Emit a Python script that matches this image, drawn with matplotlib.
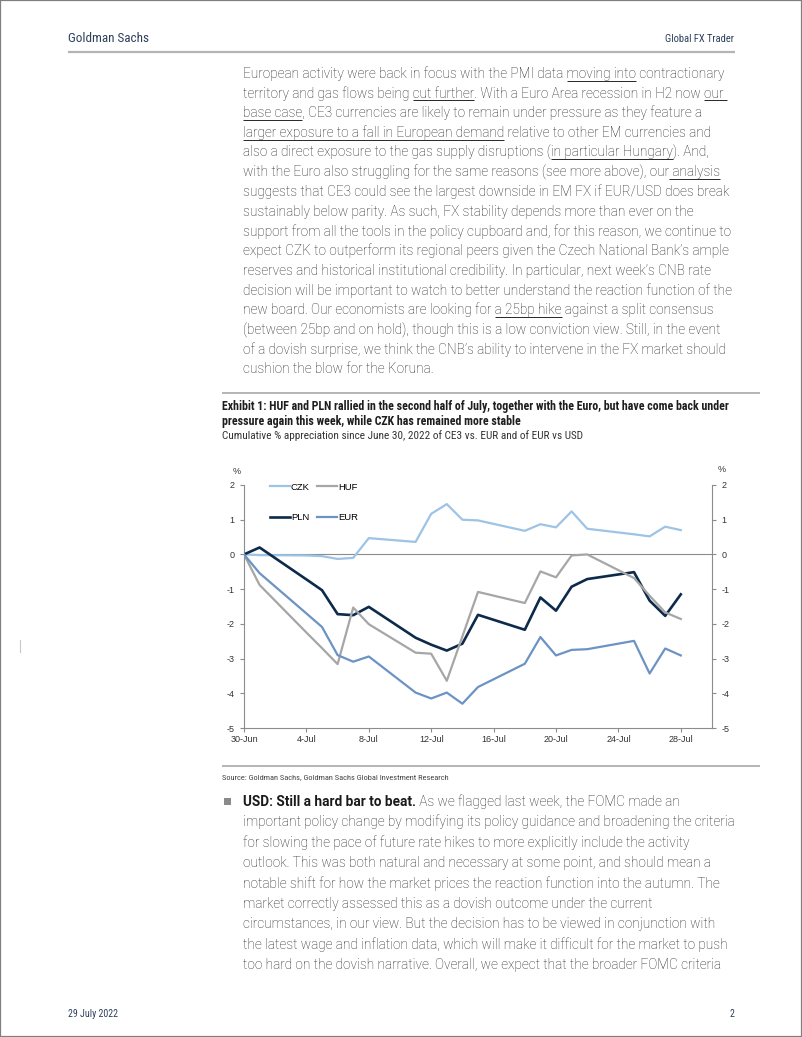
import re

import matplotlib
matplotlib.use("Agg")
import matplotlib.dates as mdates
import matplotlib.pyplot as plt
import pandas as pd
from matplotlib import font_manager
from matplotlib.lines import Line2D
from matplotlib.patches import Rectangle

# ---- chart data ----
dates = pd.to_datetime([
    "2022-06-30", "2022-07-01", "2022-07-04", "2022-07-05", "2022-07-06", "2022-07-07",
    "2022-07-08", "2022-07-11", "2022-07-12", "2022-07-13", "2022-07-14", "2022-07-15",
    "2022-07-18", "2022-07-19", "2022-07-20", "2022-07-21", "2022-07-22", "2022-07-25",
    "2022-07-26", "2022-07-27", "2022-07-28",
])
czk = [0, -0.02, -0.03, -0.05, -0.13, -0.10, 0.47, 0.36, 1.17, 1.45, 1.00, 0.98,
       0.68, 0.87, 0.78, 1.24, 0.74, 0.58, 0.52, 0.80, 0.70]
huf = [0, -0.88, -2.25, -2.70, -3.16, -1.53, -2.01, -2.83, -2.86, -3.64, -2.36, -1.08,
       -1.40, -0.49, -0.66, -0.03, 0.00, -0.68, -1.19, -1.67, -1.86]
pln = [0, 0.20, -0.72, -1.03, -1.72, -1.75, -1.51, -2.40, -2.60, -2.77, -2.57, -1.74,
       -2.17, -1.24, -1.62, -0.93, -0.71, -0.51, -1.33, -1.77, -1.15]
eur = [0, -0.54, -1.70, -2.09, -2.90, -3.09, -2.94, -3.98, -4.15, -3.98, -4.30, -3.82,
       -3.15, -2.38, -2.91, -2.75, -2.73, -2.49, -3.43, -2.71, -2.91]
tick_dates = pd.date_range("2022-06-30", periods=8, freq="4D")

# ---- page text ----
para1 = [
    "European activity were back in focus with the PMI data [moving into] contractionary",
    "territory and gas flows being [cut further]. With a Euro Area recession in H2 now [our ]",
    "[base case], CE3 currencies are likely to remain under pressure as they feature a",
    "[larger exposure to a fall in European demand] relative to other EM currencies and",
    "also a direct exposure to the gas supply disruptions ([in particular Hungary]). And,",
    "with the Euro also struggling for the same reasons (see more above), our[ analysis]",
    "suggests that CE3 could see the largest downside in EM FX if EUR/USD does break",
    "sustainably below parity. As such, FX stability depends more than ever on the",
    "support from all the tools in the policy cupboard and, for this reason, we continue to",
    "expect CZK to outperform its regional peers given the Czech National Bank\u2019s ample",
    "reserves and historical institutional credibility. In particular, next week\u2019s CNB rate",
    "decision will be important to watch to better understand the reaction function of the",
    "new board. Our economists are looking for [a 25bp hike] against a split consensus",
    "(between 25bp and on hold), though this is a low conviction view. Still, in the event",
    "of a dovish surprise, we think the CNB\u2019s ability to intervene in the FX market should",
    "cushion the blow for the Koruna.",
]
bullet_bold = "USD: Still a hard bar to beat."
para2 = [
    " As we flagged last week, the FOMC made an",
    "important policy change by modifying its policy guidance and broadening the criteria",
    "for slowing the pace of future rate hikes to more explicitly include the activity",
    "outlook. This was both natural and necessary at some point, and should mean a",
    "notable shift for how the market prices the reaction function into the autumn. The",
    "market correctly assessed this as a dovish outcome under the current",
    "circumstances, in our view. But the decision has to be viewed in conjunction with",
    "the latest wage and inflation data, which will make it difficult for the market to push",
    "too hard on the dovish narrative. Overall, we expect that the broader FOMC criteria",
]
title_lines = [
    "Exhibit 1: HUF and PLN rallied in the second half of July, together with the Euro, but have come back under",
    "pressure again this week, while CZK has remained more stable",
]
subtitle = "Cumulative % appreciation since June 30, 2022 of CE3 vs. EUR and of EUR vs USD"
source = "Source: Goldman Sachs, Goldman Sachs Global Investment Research"


def pick(*names):
    have = {f.name for f in font_manager.fontManager.ttflist}
    for n in names:
        if n in have:
            return n
    return "DejaVu Sans"


BODY = pick("Roboto", "Liberation Sans")
NARROW = pick("Liberation Sans Narrow", "Roboto Condensed", "Liberation Sans")
ARIAL = pick("Liberation Sans", "DejaVu Sans")
plt.rcParams["axes.unicode_minus"] = False
plt.rcParams["font.family"] = [ARIAL, "DejaVu Sans"]

W, H = 802, 1037
fig = plt.figure(figsize=(W / 100, H / 100), dpi=100)
renderer = fig.canvas.get_renderer()


def fx(x):
    return x / W


def fy(y):
    return 1 - y / H


def width(s, **kw):
    t = fig.text(0, 0, s, **kw)
    w = t.get_window_extent(renderer).width
    t.remove()
    return w


def adv(s, **kw):
    return width(s + "x", **kw) - width("x", **kw)


def fit(sample, target, **kw):
    return 10 * target / width(sample, fontsize=10, **kw)


def hline(x0, x1, y, color, lw):
    fig.add_artist(Line2D([fx(x0), fx(x1)], [fy(y), fy(y)], transform=fig.transFigure,
                          color=color, lw=lw, solid_capstyle="butt"))


TXT = "#262626"
body_kw = dict(family=[BODY, "DejaVu Sans"], fontweight="light")
body_kw["fontsize"] = fit(para1[6], 486, **body_kw)


def draw_line(x, y, s, **kw):
    plain = s.replace("[", "").replace("]", "")
    fig.text(fx(x), fy(y), plain, va="baseline", ha="left", color=TXT, **kw)
    pre = ""
    for part in re.split(r"(\[.*?\])", s):
        if part.startswith("["):
            inner = part[1:-1]
            x0 = x + (adv(pre, **kw) if pre else 0)
            x1 = x + adv(pre + inner, **kw)
            hline(x0, x1, y + 2.5, TXT, 0.7)
            pre += inner
        else:
            pre += part


# page frame
fig.add_artist(Rectangle((0, 0), 1, 1, transform=fig.transFigure, fill=False,
                         edgecolor="#7f7f7f", lw=1.6))
fig.add_artist(Line2D([fx(20), fx(20)], [fy(640), fy(652)], transform=fig.transFigure,
                      color="#c8c8c8", lw=0.8))

# header / footer
HEAD = "#2d405c"
hd_kw = dict(family=[NARROW, "DejaVu Sans"])
fs_h = fit("Goldman Sachs", 82, **hd_kw)
fig.text(fx(68), fy(42), "Goldman Sachs", fontsize=fs_h, color=HEAD, va="baseline", **hd_kw)
fs_h2 = fit("Global FX Trader", 69, **hd_kw)
fig.text(fx(734), fy(42), "Global FX Trader", fontsize=fs_h2, color=HEAD, va="baseline",
         ha="right", **hd_kw)
hline(68, 735, 52, "#b4b4b4", 1.6)
fs_f = fit("29 July 2022", 50, **hd_kw)
fig.text(fx(68), fy(1017), "29 July 2022", fontsize=fs_f, color=HEAD, va="baseline", **hd_kw)
fig.text(fx(734), fy(1017), "2", fontsize=fs_f, color=HEAD, va="baseline", ha="right", **hd_kw)

# first paragraph
for i, s in enumerate(para1):
    draw_line(243, 78 + i * 19.7, s, **body_kw)

# exhibit heading
hline(222, 760, 393, "#b4b4b4", 1.4)
tb_kw = dict(family=[NARROW, "DejaVu Sans"], fontweight="bold")
fs_t = fit(title_lines[0], 506, **tb_kw)
for i, s in enumerate(title_lines):
    fig.text(fx(222), fy(410 + i * 15), s, fontsize=fs_t, color="#1e1e1e", va="baseline", **tb_kw)
fs_s = fit(subtitle, 359, **hd_kw)
fig.text(fx(222), fy(439), subtitle, fontsize=fs_s, color="#333333", va="baseline", **hd_kw)

# chart
ax = fig.add_axes([fx(244), fy(728), (712 - 244) / W, (728 - 485) / H])
series = [("CZK", czk, "#9dc3e6", 1.6), ("PLN", pln, "#0d2a4a", 1.9),
          ("HUF", huf, "#a6a6a6", 1.6), ("EUR", eur, "#6b93c4", 1.6)]
handles = []
for name, vals, col, lw in series:
    h, = ax.plot(dates, vals, color=col, lw=lw, label=name, zorder=3)
    handles.append(h)
ax.axhline(0, color="#8c8c8c", lw=0.8, zorder=1)
ax.set_xlim(pd.Timestamp("2022-06-30"), pd.Timestamp("2022-07-30"))
ax.set_ylim(-5, 2)
ax.set_yticks(range(-5, 3))
ax.set_xticks(tick_dates)
ax.xaxis.set_major_formatter(mdates.DateFormatter("%-d-%b"))
for side in ("left", "right", "bottom"):
    ax.spines[side].set_color("#8c8c8c")
    ax.spines[side].set_linewidth(0.8)
ax.spines["top"].set_visible(False)
ax.tick_params(axis="both", labelsize=6.5, colors="#8c8c8c", labelcolor="#333333",
               length=3, width=0.8)
ax.tick_params(axis="y", right=True, labelright=True, pad=4)
ax.tick_params(axis="x", pad=2)
ax.legend(handles=handles, ncol=2, loc="upper left", bbox_to_anchor=(0.055, 1.01),
          frameon=False, fontsize=6.8, handlelength=2.1, handletextpad=0.15,
          columnspacing=0.8, labelspacing=2.3, borderpad=0, borderaxespad=0)
fig.text(fx(237), fy(472), "%", fontsize=6.5, color="#333333", ha="center", va="center")
fig.text(fx(722), fy(469), "%", fontsize=6.5, color="#333333", ha="center", va="center")

# source
hline(222, 760, 766, "#b4b4b4", 1.4)
fs_src = fit(source, 227, **hd_kw)
fig.text(fx(222), fy(779), source, fontsize=fs_src, color="#444444", va="baseline", **hd_kw)

# bullet paragraph
fig.add_artist(Rectangle((fx(224), fy(805)), 7 / W, 7 / H, transform=fig.transFigure,
                         color="#8a8a8a", lw=0))
bold_kw = dict(body_kw, fontweight="bold")
fig.text(fx(243), fy(806), bullet_bold, va="baseline", color="#1a1a1a", **bold_kw)
x_after = 243 + adv(bullet_bold, **bold_kw)
for i, s in enumerate(para2):
    x = x_after if i == 0 else 243
    draw_line(x, 806 + i * 20.4, s, **body_kw)

fig.savefig("out.png", dpi=100)
